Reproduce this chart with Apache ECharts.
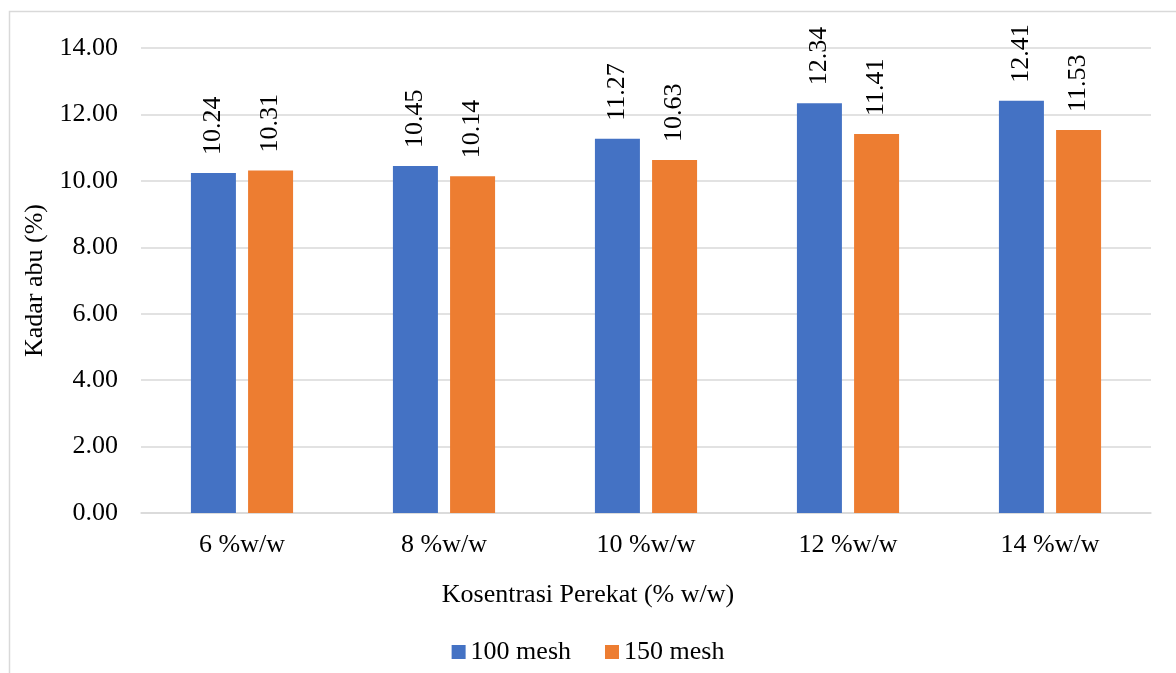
<!DOCTYPE html>
<html>
<head>
<meta charset="utf-8">
<title>Kadar abu</title>
<script src="https://cdn.jsdelivr.net/npm/echarts@6/dist/echarts.min.js"></script>
<style>
  html, body { margin: 0; padding: 0; background: #ffffff; }
  #chart { width: 1176px; height: 673px; }
</style>
</head>
<body>
<div id="chart"></div>
<script>
// Binder concentration categories
const categories = ['6 %w/w', '8 %w/w', '10 %w/w', '12 %w/w', '14 %w/w'];
// Ash content (%) per particle size
const mesh100 = [10.24, 10.45, 11.27, 12.34, 12.41];
const mesh150 = [10.31, 10.14, 10.63, 11.41, 11.53];
const seriesNames = ['100 mesh', '150 mesh'];
const xAxisTitle = 'Kosentrasi Perekat (% w/w)';
const yAxisTitle = 'Kadar abu (%)';

const FONT = "'Liberation Serif', serif";
const TEXT = '#000000';
const GRID = '#d9d9d9';
const SIZE = 26;

const chart = echarts.init(document.getElementById('chart'), null, { renderer: 'canvas' });

const valueLabel = {
  show: true,
  position: 'top',
  rotate: 90,
  align: 'left',
  verticalAlign: 'middle',
  distance: 18,
  color: TEXT,
  fontFamily: FONT,
  fontSize: SIZE,
  formatter: p => p.value.toFixed(2)
};

chart.setOption({
  animation: false,
  backgroundColor: '#ffffff',
  textStyle: { fontFamily: FONT, color: TEXT },
  graphic: [{
    type: 'rect',
    shape: { x: 9.5, y: 11.5, width: 1200, height: 700 },
    style: { fill: 'none', stroke: GRID, lineWidth: 1.5 },
    silent: true
  }],
  // horizontal axis title, centred on the whole chart area
  title: {
    text: xAxisTitle,
    left: 'center',
    top: 582,
    padding: 0,
    textStyle: { fontFamily: FONT, fontSize: SIZE, fontWeight: 'normal', color: TEXT }
  },
  grid: { left: 141, right: 25, top: 48, bottom: 160 },
  legend: {
    data: seriesNames,
    left: 'center',
    top: 634,
    itemWidth: 14,
    itemHeight: 14,
    itemGap: 34,
    icon: 'rect',
    textStyle: { fontFamily: FONT, fontSize: SIZE, color: TEXT }
  },
  xAxis: {
    type: 'category',
    data: categories,
    axisLine: { lineStyle: { color: GRID, width: 1.5 } },
    axisTick: { show: false },
    axisLabel: { margin: 19, fontFamily: FONT, fontSize: SIZE, color: TEXT }
  },
  yAxis: {
    type: 'value',
    min: 0,
    max: 14,
    interval: 2,
    name: yAxisTitle,
    nameLocation: 'middle',
    nameGap: 86,
    nameTextStyle: { fontFamily: FONT, fontSize: SIZE, color: TEXT },
    axisLine: { show: false },
    axisTick: { show: false },
    splitLine: { lineStyle: { color: GRID, width: 1.5 } },
    axisLabel: {
      margin: 23,
      fontFamily: FONT,
      fontSize: SIZE,
      color: TEXT,
      formatter: v => v.toFixed(2)
    }
  },
  series: [
    {
      name: seriesNames[0],
      type: 'bar',
      data: mesh100,
      barWidth: 45,
      barGap: '27%',
      itemStyle: { color: '#4472C4' },
      label: valueLabel
    },
    {
      name: seriesNames[1],
      type: 'bar',
      data: mesh150,
      barWidth: 45,
      barGap: '27%',
      itemStyle: { color: '#ED7D31' },
      label: valueLabel
    }
  ]
});
</script>
</body>
</html>
